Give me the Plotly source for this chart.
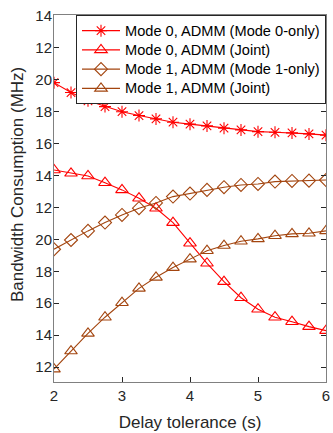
import plotly.graph_objects as go

# x: delay tolerance (s)
delay = [2, 2.25, 2.5, 2.75, 3, 3.25, 3.5, 3.75, 4, 4.25, 4.5, 4.75, 5, 5.25, 5.5, 5.75, 6]

# values on the (stacked-label) axis scale
mode0_only = [29.82, 29.2, 28.68, 28.32, 28.0, 27.76, 27.55, 27.34, 27.22, 27.11, 26.97, 26.86, 26.75, 26.71, 26.67, 26.61, 26.53]
mode0_joint = [24.35, 24.14, 23.97, 23.55, 23.1, 22.58, 21.95, 21.05, 19.76, 18.5, 17.35, 16.34, 15.62, 15.12, 14.84, 14.53, 14.28]
mode1_only = [19.38, 19.96, 20.53, 21.05, 21.53, 21.95, 22.28, 22.68, 22.87, 23.1, 23.27, 23.41, 23.47, 23.62, 23.66, 23.68, 23.72]
mode1_joint = [11.87, 13.0, 14.11, 15.12, 16.03, 16.93, 17.62, 18.23, 18.76, 19.29, 19.61, 19.88, 20.03, 20.23, 20.34, 20.38, 20.53]

y_tickvals = [12, 14, 16, 18, 20, 22, 24, 26, 28, 30, 32, 34]
y_ticktext = ['12', '14', '16', '18', '20', '12', '14', '16', '18', '20', '12', '14']
x_tickvals = [2, 3, 4, 5, 6]

names = ['Mode 0, ADMM (Mode 0-only)', 'Mode 0, ADMM (Joint)',
         'Mode 1, ADMM (Mode 1-only)', 'Mode 1, ADMM (Joint)']
y_title = 'Bandwidth Consumption (MHz)'
x_title = 'Delay tolerance (s)'

RED = '#FF0000'
BROWN = '#A3450F'
FONT = 'Liberation Sans, Arial, sans-serif'
TXT = '#262626'

series = [
    (mode0_only, names[0], RED, 'asterisk-open', 10),
    (mode0_joint, names[1], RED, 'triangle-up-open', 11),
    (mode1_only, names[2], BROWN, 'diamond-open', 10),
    (mode1_joint, names[3], BROWN, 'triangle-up-open', 11),
]

fig = go.Figure()
for vals, nm, col, sym, sz in series:
    fig.add_trace(go.Scatter(
        x=delay, y=vals, name='<span style="font-size:14.6px">' + nm + '</span>',
        mode='lines+markers',
        line=dict(color=col, width=1.1),
        marker=dict(symbol=sym, size=sz, color=col, line=dict(color=col, width=1.1)),
    ))

fig.update_layout(
    template='none',
    width=333, height=433,
    margin=dict(l=54, r=7, t=15, b=51),
    paper_bgcolor='white', plot_bgcolor='white',
    font=dict(family=FONT, color=TXT, size=15),
    showlegend=True,
    legend=dict(
        x=1, y=1, xanchor='right', yanchor='top',
        bgcolor='white', bordercolor='#262626', borderwidth=1,
        font=dict(size=12.5, color='#000000'),
        tracegroupgap=0, itemwidth=38,
    ),
    xaxis=dict(
        range=[2, 6], tickvals=x_tickvals, ticks='inside', ticklen=5,
        tickcolor='#262626', showline=True, linecolor='#808080', linewidth=1,
        mirror='ticks', showgrid=False, zeroline=False, automargin=False,
        ticklabeloverflow='allow',
        title=dict(text=x_title, font=dict(size=17), standoff=13),
    ),
    yaxis=dict(
        range=[11.06, 34.06], tickvals=y_tickvals, ticktext=y_ticktext,
        ticks='inside', ticklen=5, tickcolor='#262626',
        showline=True, linecolor='#808080', linewidth=1, mirror='ticks',
        showgrid=False, zeroline=False, automargin=False,
        ticklabelstandoff=-2, ticklabeloverflow='allow',
    ),
    annotations=[dict(
        text=y_title, textangle=-90, showarrow=False,
        xref='paper', yref='paper', x=-0.132, y=0.537,
        xanchor='center', yanchor='middle',
        font=dict(size=17, color=TXT, family=FONT),
    )],
)

fig.write_html(
    'out.html',
    config={'displayModeBar': False},
    post_script="document.body.style.margin='0';document.body.style.overflow='hidden';",
)
